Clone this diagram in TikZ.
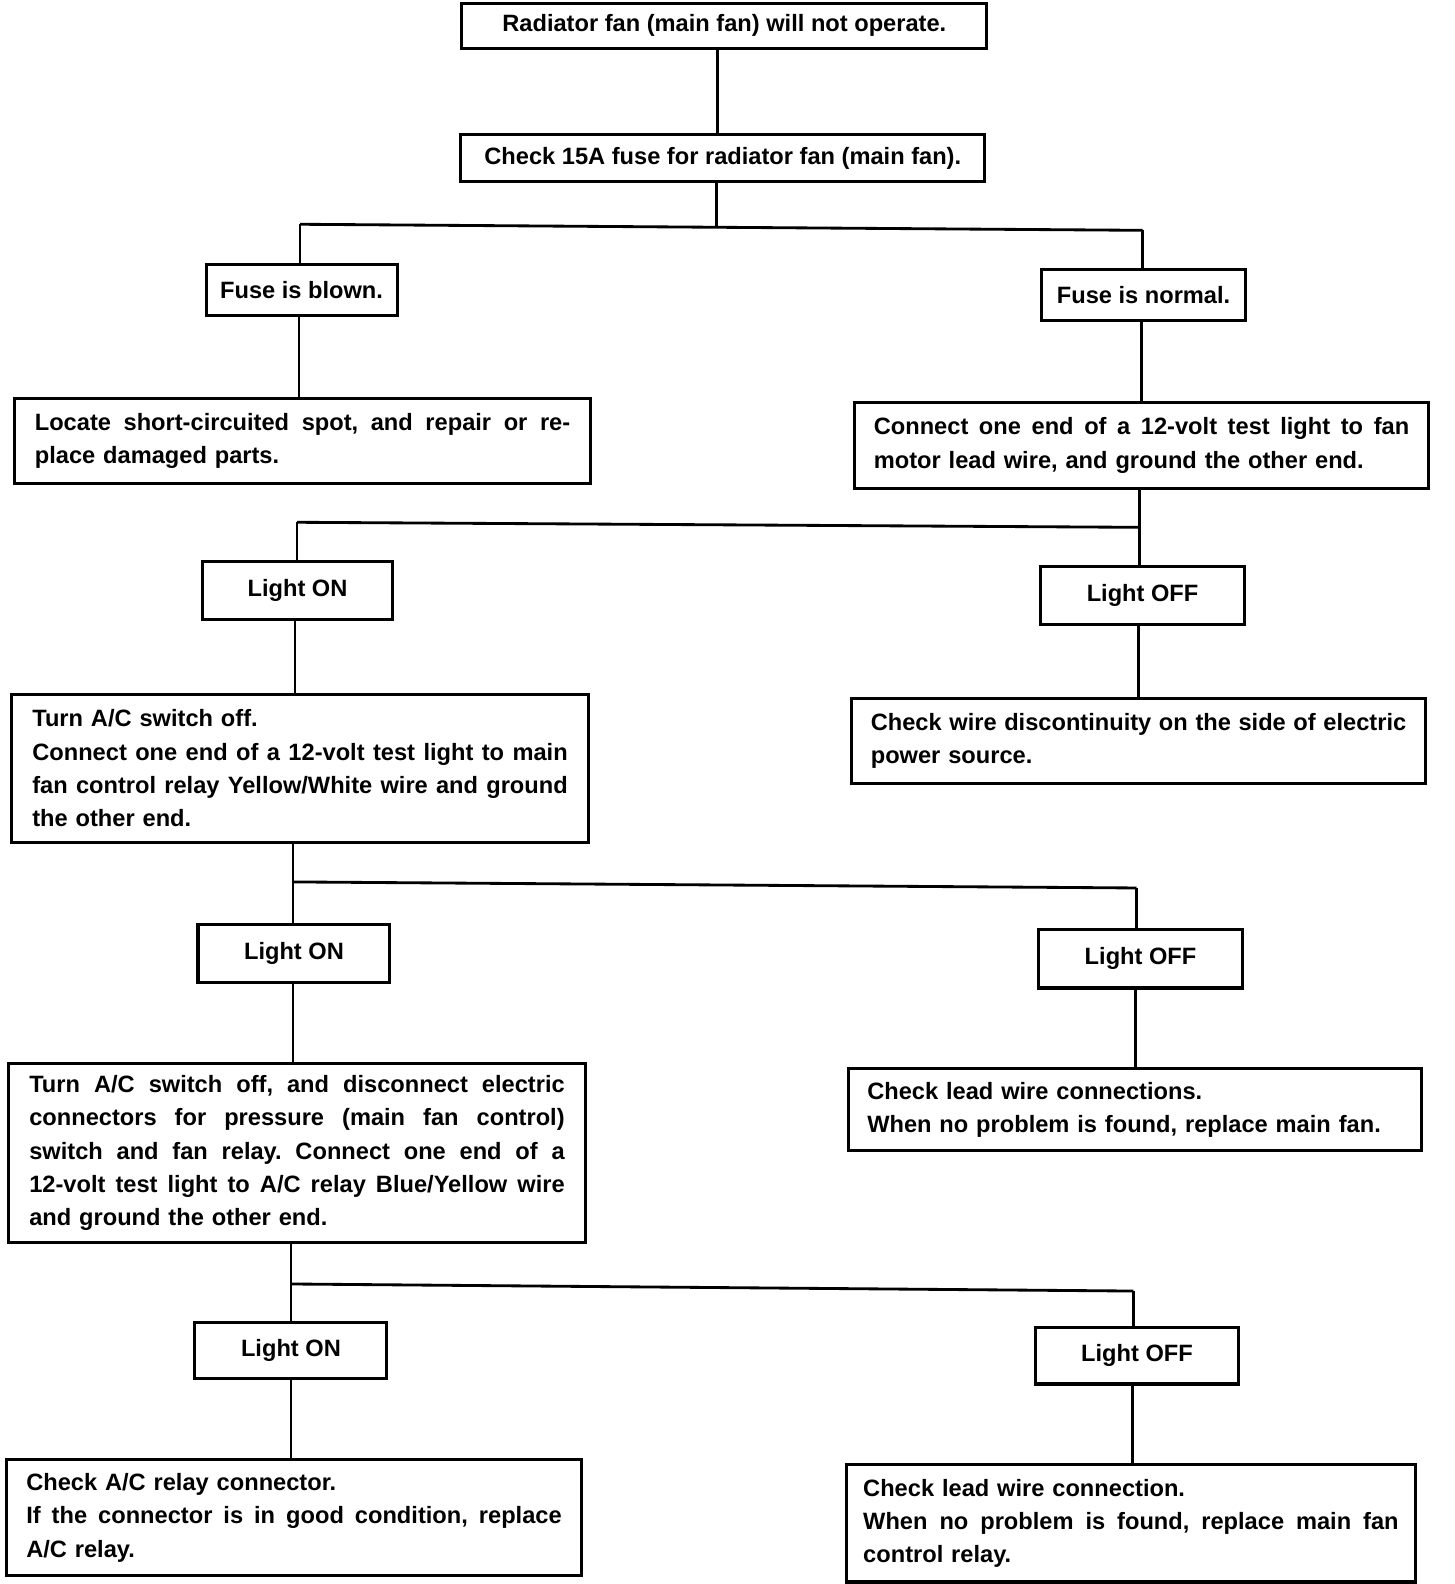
\documentclass[tikz,border=0pt]{standalone}
\usepackage{fontspec}
\setmainfont{Liberation Sans}
\newcommand\jl[1]{{\frenchspacing\spaceskip=0pt\xspaceskip=0pt\makebox[265pt][s]{#1}}}
\begin{document}
\begin{tikzpicture}[x=0.5pt,y=-0.5pt,
  txt/.style={font=\fontsize{11.7}{16.5}\selectfont\bfseries},
  smallbox/.style 2 args={draw,line width=1.5pt,txt,inner sep=0pt,minimum width=#1*0.5pt,minimum height=#2*0.5pt,align=center},
  bigbox/.style 2 args={draw,line width=1.5pt,txt,inner sep=0pt,minimum width=#1*0.5pt,minimum height=#2*0.5pt,text width=265pt,align=left},
  conn/.style={line width=1.4pt}]
\useasboundingbox (0,0) rectangle (1440,1568);
\node[smallbox={520}{45}] (n1) at (717,25.5) {Radiator fan (main fan) will not operate.};
\node[smallbox={519}{47}] (n2) at (715.5,156.5) {Check 15A fuse for radiator fan (main fan).};
\node[smallbox={189}{50}] (n3) at (298.5,287) {Fuse is blown.};
\node[smallbox={202}{50}] (n4) at (1132,292) {Fuse is normal.};
\node[bigbox={571}{85}] (n5) at (299.5,436.5) {\jl{Locate short-circuited spot, and repair or re-}\\place damaged parts.};
\node[bigbox={568}{86}] (n6) at (1130,441) {\jl{Connect one end of a 12-volt test light to fan}\\motor lead wire, and ground the other end.};
\node[smallbox={189}{57}] (n7) at (294.5,584.5) {Light ON};
\node[smallbox={202}{57}] (n8) at (1131,589.5) {Light OFF};
\node[bigbox={572}{147}] (n9) at (297,760.5) {Turn A/C switch off.\\\jl{Connect one end of a 12-volt test light to main}\\\jl{fan control relay Yellow/White wire and ground}\\the other end.};
\node[bigbox={568}{85}] (n10) at (1127,733.5) {\jl{Check wire discontinuity on the side of electric}\\power source.};
\node[smallbox={190}{58}] (n11) at (291,944) {Light ON};
\node[smallbox={202}{58}] (n12) at (1129,949) {Light OFF};
\node[bigbox={572}{177}] (n13) at (294,1141.5) {\jl{Turn A/C switch off, and disconnect electric}\\\jl{connectors for pressure (main fan control)}\\\jl{switch and fan relay. Connect one end of a}\\\jl{12-volt test light to A/C relay Blue/Yellow wire}\\and ground the other end.};
\node[bigbox={567}{81}] (n14) at (1123.5,1098.5) {Check lead wire connections.\\When no problem is found, replace main fan.};
\node[smallbox={190}{56}] (n15) at (288,1337) {Light ON};
\node[smallbox={201}{56}] (n16) at (1125.5,1342) {Light OFF};
\node[bigbox={570}{115}] (n17) at (291,1502.5) {Check A/C relay connector.\\\jl{If the connector is in good condition, replace}\\A/C relay.};
\node[bigbox={563}{116}] (n18) at (1119.5,1508) {Check lead wire connection.\\\jl{When no problem is found, replace main fan}\\control relay.};
% connectors
\draw[conn] (n1.south -| 710,0) -- (n2.north -| 710,0);
\coordinate (b1l) at (297,222);
\coordinate (b1r) at (1131,228);
\coordinate (b1m) at (709,225);
\draw[conn] (n2.south -| b1m) -- (b1m);
\draw[conn] (b1l) -- (b1r);
\draw[conn] (b1l) -- (b1l |- n3.north);
\draw[conn] (b1r) -- (b1r |- n4.north);
\draw[conn] (n3.south -| 296,0) -- (n5.north -| 296,0);
\draw[conn] (n4.south -| 1130,0) -- (n6.north -| 1130,0);
\coordinate (b2l) at (294,517);
\coordinate (b2r) at (1128,522);
\draw[conn] (n6.south -| b2r) -- (n8.north -| b2r);
\draw[conn] (b2l) -- (b2r);
\draw[conn] (b2l) -- (b2l |- n7.north);
\draw[conn] (n7.south -| 292,0) -- (n9.north -| 292,0);
\draw[conn] (n8.south -| 1127,0) -- (n10.north -| 1127,0);
\coordinate (b3l) at (290,873);
\coordinate (b3r) at (1125,879);
\draw[conn] (n9.south -| b3l) -- (n11.north -| b3l);
\draw[conn] (b3l) -- (b3r);
\draw[conn] (b3r) -- (b3r |- n12.north);
\draw[conn] (n11.south -| 290,0) -- (n13.north -| 290,0);
\draw[conn] (n12.south -| 1124,0) -- (n14.north -| 1124,0);
\coordinate (b4l) at (288,1271);
\coordinate (b4r) at (1122,1278);
\draw[conn] (n13.south -| b4l) -- (n15.north -| b4l);
\draw[conn] (b4l) -- (b4r);
\draw[conn] (b4r) -- (b4r |- n16.north);
\draw[conn] (n15.south -| 288,0) -- (n17.north -| 288,0);
\draw[conn] (n16.south -| 1121,0) -- (n18.north -| 1121,0);
\end{tikzpicture}
\end{document}
